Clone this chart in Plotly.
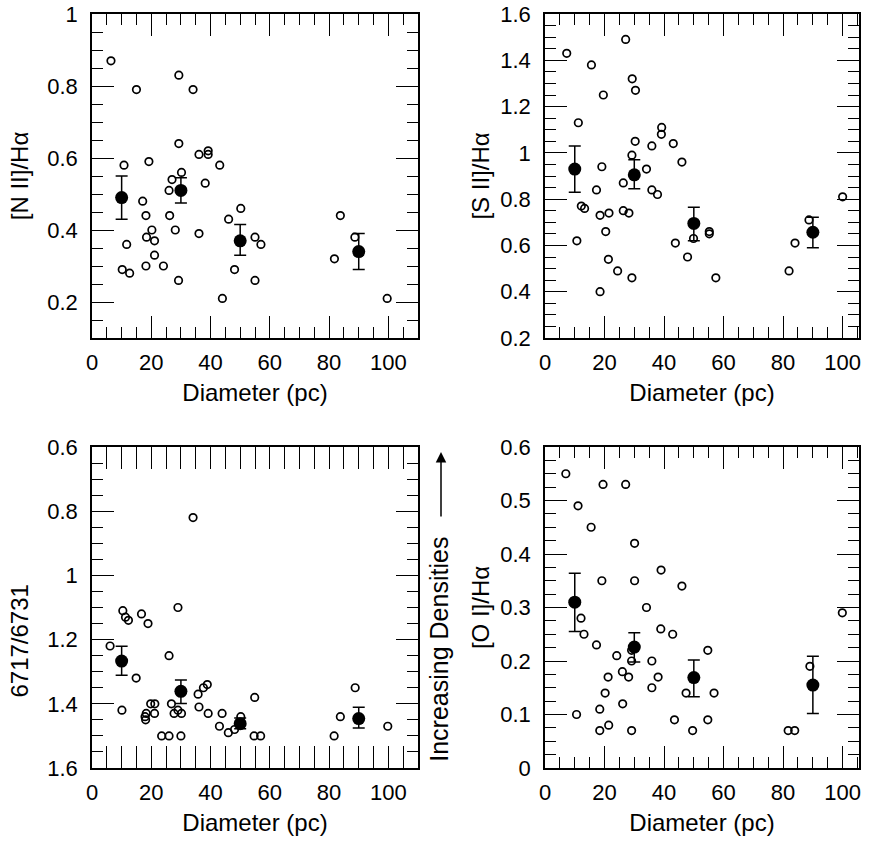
import plotly.graph_objects as go

# ---------------- data ----------------
# Panel 1: [N II]/Halpha
n2_diam = [6.4, 15, 29.3, 34.1, 29.3, 36.1, 39.2, 39.2, 43.1, 10.8,
           19.2, 30.2, 27, 26, 38.2, 17.1, 18.2, 26.2, 20.2, 18.4,
           21.1, 28.1, 36.1, 11.7, 21.1, 10.2, 12.7, 18.2, 24.1, 29.2,
           46.1, 50.2, 55, 57, 48.1, 55, 44, 83.8, 88.7, 81.8, 99.6]
n2_ratio = [0.87, 0.79, 0.83, 0.79, 0.64, 0.61, 0.62, 0.61, 0.58, 0.58,
            0.59, 0.56, 0.54, 0.51, 0.53, 0.48, 0.44, 0.44, 0.40, 0.38,
            0.37, 0.40, 0.39, 0.36, 0.33, 0.29, 0.28, 0.30, 0.30, 0.26,
            0.43, 0.46, 0.38, 0.36, 0.29, 0.26, 0.21, 0.44, 0.38, 0.32, 0.21]

# Panel 2: [S II]/Halpha
s2_diam = [7.3, 15.6, 27.1, 29.3, 30.4, 19.6, 11.2, 39.2, 39.1, 30.3,
           35.9, 43.1, 29.2, 46.0, 19.1, 34.1, 26.3, 17.3, 35.9, 37.8,
           12.2, 13.3, 18.5, 21.5, 26.3, 28.2, 20.4, 10.7, 21.3, 24.4,
           29.2, 18.5, 43.8, 49.9, 47.9, 55.2, 55.2, 57.4, 84.0, 82.0, 88.7, 100]
s2_ratio = [1.43, 1.38, 1.49, 1.32, 1.27, 1.25, 1.13, 1.11, 1.08, 1.05,
            1.03, 1.04, 0.99, 0.96, 0.94, 0.93, 0.87, 0.84, 0.84, 0.82,
            0.77, 0.76, 0.73, 0.74, 0.75, 0.74, 0.66, 0.62, 0.54, 0.49,
            0.46, 0.40, 0.61, 0.63, 0.55, 0.65, 0.66, 0.46, 0.61, 0.49, 0.71, 0.81]

# Panel 3: 6717/6731
dens_diam = [34.1, 6.1, 10.4, 11.3, 12.3, 16.7, 18.9, 29.0, 26.0, 14.9,
             10.1, 17.9, 18.1, 18.3, 19.8, 21.2, 21.1, 26.8, 27.7, 29.0,
             30.2, 23.5, 26.0, 30.0, 35.8, 37.6, 38.9, 36.1, 39.2, 43.9,
             43.0, 46.0, 48.1, 50.2, 54.9, 54.7, 56.9, 88.8, 83.8, 81.7, 99.8]
dens_ratio = [0.82, 1.22, 1.11, 1.13, 1.14, 1.12, 1.15, 1.10, 1.25, 1.32,
              1.42, 1.44, 1.45, 1.43, 1.40, 1.40, 1.43, 1.40, 1.43, 1.42,
              1.43, 1.50, 1.50, 1.50, 1.37, 1.35, 1.34, 1.41, 1.43, 1.43,
              1.47, 1.49, 1.48, 1.44, 1.38, 1.50, 1.50, 1.35, 1.44, 1.50, 1.47]

# Panel 4: [O I]/Halpha
o1_diam = [7.0, 11.1, 19.5, 27.1, 15.5, 30.1, 19.1, 30.1, 39.0, 46.0,
           34.1, 12.1, 13.1, 17.3, 38.9, 42.9, 24.1, 29.1, 29.1, 35.9,
           21.2, 26.0, 28.1, 38.0, 35.9, 20.2, 18.4, 26.1, 10.6, 18.4,
           21.4, 29.1, 43.5, 47.4, 49.6, 54.7, 54.7, 56.8, 89.0, 81.7, 83.9, 99.9]
o1_ratio = [0.55, 0.49, 0.53, 0.53, 0.45, 0.42, 0.35, 0.35, 0.37, 0.34,
            0.30, 0.28, 0.25, 0.23, 0.26, 0.25, 0.21, 0.22, 0.20, 0.20,
            0.17, 0.18, 0.17, 0.17, 0.15, 0.14, 0.11, 0.12, 0.10, 0.07,
            0.08, 0.07, 0.09, 0.14, 0.07, 0.09, 0.22, 0.14, 0.19, 0.07, 0.07, 0.29]

# binned means with error ranges
bin_diam = [10, 30, 50, 90]
n2_mean = [0.49, 0.51, 0.37, 0.34]
n2_lo = [0.43, 0.475, 0.33, 0.29]
n2_hi = [0.55, 0.545, 0.415, 0.39]
s2_mean = [0.93, 0.905, 0.695, 0.657]
s2_lo = [0.83, 0.845, 0.62, 0.59]
s2_hi = [1.03, 0.97, 0.765, 0.722]
dens_mean = [1.267, 1.361, 1.462, 1.446]
dens_lo = [1.221, 1.326, 1.444, 1.411]
dens_hi = [1.311, 1.399, 1.478, 1.475]
o1_mean = [0.31, 0.226, 0.169, 0.155]
o1_lo = [0.255, 0.198, 0.133, 0.102]
o1_hi = [0.364, 0.253, 0.202, 0.209]

# ---------------- figure ----------------
W, H = 869, 843
FONT = "Liberation Sans, Arial, Helvetica, sans-serif"
NB = "\u00a0"
ZW = "\u200b"

def px_x(a, b):
    return [a / W, b / W]

def px_y(top, bottom):
    return [1 - bottom / H, 1 - top / H]

fig = go.Figure()

panels = [
    ("x", "y", n2_diam, n2_ratio, n2_mean, n2_lo, n2_hi),
    ("x2", "y2", s2_diam, s2_ratio, s2_mean, s2_lo, s2_hi),
    ("x3", "y3", dens_diam, dens_ratio, dens_mean, dens_lo, dens_hi),
    ("x4", "y4", o1_diam, o1_ratio, o1_mean, o1_lo, o1_hi),
]

for xa, ya, dx, dy, m, lo, hi in panels:
    fig.add_trace(go.Scatter(
        x=dx, y=dy, mode="markers", xaxis=xa, yaxis=ya,
        marker=dict(symbol="circle-open", size=7.5, color="black",
                    line=dict(width=1.7, color="black"))))
    fig.add_trace(go.Scatter(
        x=bin_diam, y=m, mode="markers", xaxis=xa, yaxis=ya,
        marker=dict(symbol="circle", size=13, color="black"),
        error_y=dict(type="data", symmetric=False,
                     array=[h - v for h, v in zip(hi, m)],
                     arrayminus=[v - l for l, v in zip(lo, m)],
                     color="black", thickness=1.5, width=6)))

# empty trace carrying the side label axis of the density panel
fig.add_trace(go.Scatter(x=[], y=[], xaxis="x3", yaxis="y5", mode="markers",
                         showlegend=False))

LX = px_x(92, 418)
RX = px_x(545, 859)
TY = px_y(14, 338)
BY = px_y(447, 768)

def ax(domain, anchor, rng, dtick, minor, title, standoff, labstand):
    return dict(domain=domain, anchor=anchor, range=rng, automargin=False,
                showline=True, linecolor="black", linewidth=1.5,
                mirror="allticks", ticks="inside", ticklen=22, tickcolor="black",
                showgrid=False, zeroline=False,
                tickfont=dict(family=FONT, size=22, color="black"),
                tick0=0, dtick=dtick,
                minor=dict(ticks="inside", ticklen=11, tickcolor="black",
                           tick0=0, dtick=minor),
                ticklabelstandoff=labstand,
                title=dict(text=title, standoff=standoff,
                           font=dict(family=FONT, size=24, color="black")))

XT = "Diameter (pc)"
fig.update_layout(
    width=W, height=H, margin=dict(l=0, r=0, t=0, b=0),
    paper_bgcolor="white", plot_bgcolor="white", showlegend=False,
    xaxis=ax(LX, "y", [0, 110], 20, 5, XT, 10, 4),
    yaxis=ax(TY, "x", [0.1, 1.0], 0.2, 0.05, "[N II]/Hα", 12, 8),
    xaxis2=ax(RX, "y2", [0, 105.5], 20, 5, XT, 10, 4),
    yaxis2=ax(TY, "x2", [0.2, 1.6], 0.2, 0.05, "[S II]/Hα", 4, 8),
    xaxis3=ax(LX, "y3", [0, 110], 20, 5, XT, 10, 4),
    yaxis3=ax(BY, "x3", [1.6, 0.6], 0.2, 0.05, "6717/6731" + NB * 10 + ZW, 12, 8),
    xaxis4=ax(RX, "y4", [0, 105.5], 20, 5, XT, 10, 4),
    yaxis4=ax(BY, "x4", [0, 0.6], 0.1, 0.025, "[O I]/Hα", 4, 8),
    yaxis5=dict(overlaying="y3", side="right", anchor="x3", range=[1.6, 0.6],
                automargin=False,
                showticklabels=False, ticks="", showline=False, showgrid=False,
                zeroline=False,
                title=dict(text="Increasing Densities" + NB * 12 + ZW, standoff=12,
                           font=dict(family=FONT, size=25, color="black"))),
)

# arrow for "Increasing Densities"
fig.add_annotation(text="", x=441 / W, y=1 - 452 / H, xref="paper", yref="paper",
                   ax=0, ay=66, axref="pixel", ayref="pixel",
                   showarrow=True, arrowhead=2, arrowsize=1.4, arrowwidth=1.5,
                   arrowcolor="black")

fig.write_html("out.html")
